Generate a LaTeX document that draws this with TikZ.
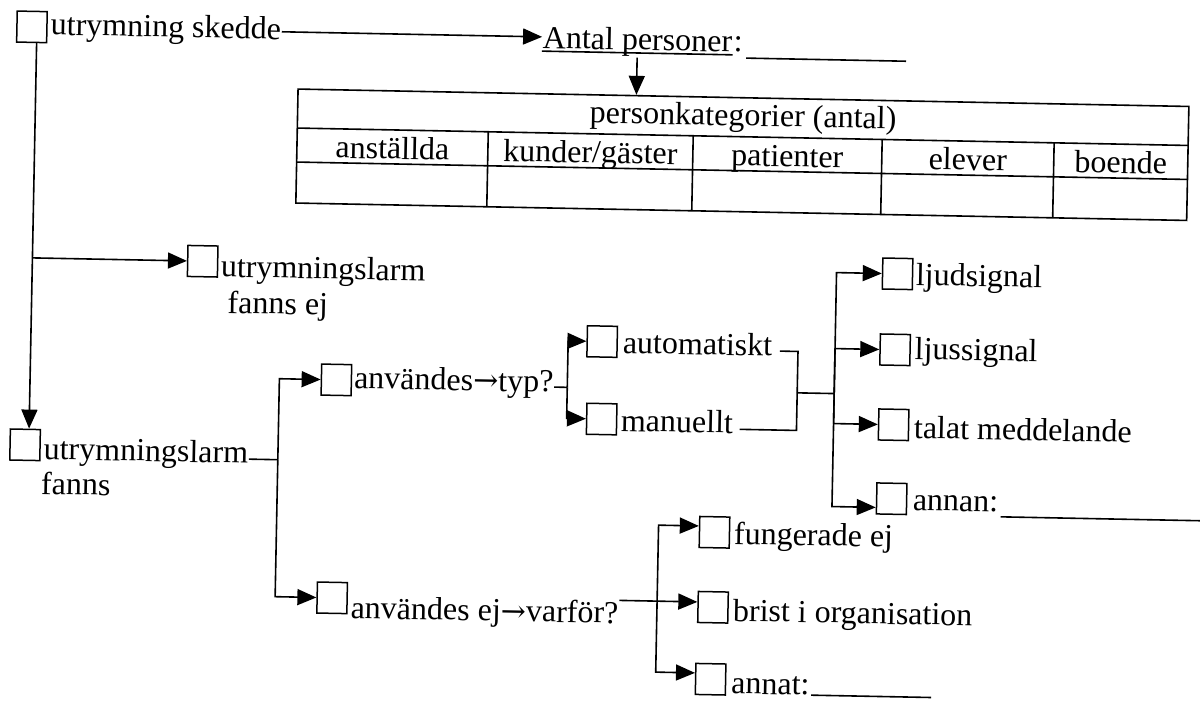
\documentclass[tikz,border=0pt]{standalone}
\usepackage{fontspec}
\setmainfont{Liberation Serif}
\newfontfamily\arrfont{DejaVu Serif}
\usetikzlibrary{arrows.meta}

\begin{document}
\begin{tikzpicture}[x=1pt, y=-1pt, line width=1.6pt,
	font=\fontsize{32}{36}\selectfont,
	every node/.style={inner sep=0pt},
	chk/.style={draw, line width=1.5pt, minimum width=30pt, minimum height=31pt},
	txt/.style={anchor=base west},
	arr/.style={-{Triangle[length=19pt,width=16pt]}}]
	\useasboundingbox (0,0) rectangle (1200,702);
	\begin{scope}[rotate around={-1.12:(600,351)}, transform shape]
		\node[chk] (A) at (25.7,38) {};
		\node[chk] (B) at (201,269) {};
		\node[chk] (C) at (27,456) {};
		\node[chk] (D) at (337,385) {};
		\node[chk] (E) at (337,603) {};
		\node[chk] (F) at (602,341.5) {};
		\node[chk] (G) at (603,419) {};
		\node[chk] (H) at (896,268) {};
		\node[chk] (I) at (895,344) {};
		\node[chk] (J) at (895,419) {};
		\node[chk] (K) at (894.5,493) {};
		\node[chk] (L) at (718,530) {};
		\node[chk] (M) at (718,605) {};
		\node[chk] (N) at (717,677) {};

		\node[txt] (a) at (43.8,45.7) {utrymning skedde};
		\node[txt] (an) at (536,49.3) {Antal personer};
		\node[txt] (anc) at (an.base east) {:};
		\node[txt] (b) at (218.6,284.4) {utrymningslarm};
		\node[txt] (b2) at (226,320.3) {fanns ej};
		\node[txt] (c) at (45,470) {utrymningslarm};
		\node[txt] (c2) at (43,505) {fanns};
		\node[txt] (d) at (354,393) {användes{\arrfont\fontsize{30}{36}\selectfont →}typ?};
		\node[txt] (e) at (355,623) {användes ej{\arrfont\fontsize{30}{36}\selectfont →}varför?};
		\node[txt] (f) at (622,352.6) {automatiskt};
		\node[txt] (g) at (621.6,430.6) {manuellt};
		\node[txt] (h) at (913.7,279) {ljudsignal};
		\node[txt] (i) at (914,353) {ljussignal};
		\node[txt] (j) at (914.7,432) {talat meddelande};
		\node[txt] (k) at (915,504) {annan:};
		\node[txt] (l) at (736.8,541.4) {fungerade ej};
		\node[txt] (m) at (737.3,618.4) {brist i organisation};
		\node[txt] (n) at (737,691) {annat:};

		\node[draw, minimum width=891pt, minimum height=114pt] (tab) at (738.5,152) {};
		\draw (293,134) -- (1184,134);
		\draw (293,168) -- (1184,168);
		\foreach \x in {484,689,878,1050}
			\draw (\x,134) -- (\x,209);
		\node[anchor=base] (hd) at (738.5,123) {personkategorier (antal)};
		\foreach \x/\lab [count=\i] in {388.5/anställda, 586.5/{kunder/gäster}, 783.5/patienter, 964/elever, 1117/boende}
			\node[anchor=base] (k\i) at (\x,163) {\lab};

		\draw[arr] (a.east) -- (a.east -| an.west);
		\draw ([yshift=-3pt]an.base west) -- ([yshift=-3pt]an.base east);
		\draw ([xshift=3pt,yshift=-6pt]anc.base east) -- ++(160,0);
		\draw[arr] (an.south) -- (an.south |- tab.north);

		\coordinate (O) at ([xshift=5pt]A.south);
		\draw[arr] (O) -- (O |- C.north);
		\draw[arr] (O |- B.west) -- (B.west);

		\coordinate (P) at (280,466);
		\draw ([yshift=4pt]c.base east) -- (P);
		\draw[arr] (P) |- (D.west);
		\draw[arr] (P) |- (E.west);

		\coordinate (Q) at (568,388);
		\draw ([yshift=5pt]d.base east) -- (Q);
		\draw[arr] (Q) |- (F.west);
		\draw[arr] (Q) |- (G.west);

		\coordinate (R) at (798,389);
		\coordinate (S) at (835,389);
		\draw ([xshift=7pt,yshift=5pt]f.base east) -| (R);
		\draw ([xshift=6pt,yshift=4pt]g.base east) -| (R);
		\draw (R) -- (S);
		\draw[arr] (S) |- (H.west);
		\draw[arr] (S) |- (I.west);
		\draw[arr] (S) |- (J.west);
		\draw[arr] (S) |- ([yshift=-9pt]K.west);
		\draw ([xshift=2pt,yshift=-5pt]k.base east) -- ++(220,0);

		\coordinate (T) at (662,600);
		\draw[arr] ([yshift=23pt]e.base east) -- (T -| M.west);
		\draw[arr] (T) |- ([yshift=6pt]L.west);
		\draw[arr] (T) |- ([yshift=6pt]N.west);
		\draw ([xshift=1pt]n.base east) -- ++(120,0);
	\end{scope}
\end{tikzpicture}
\end{document}
